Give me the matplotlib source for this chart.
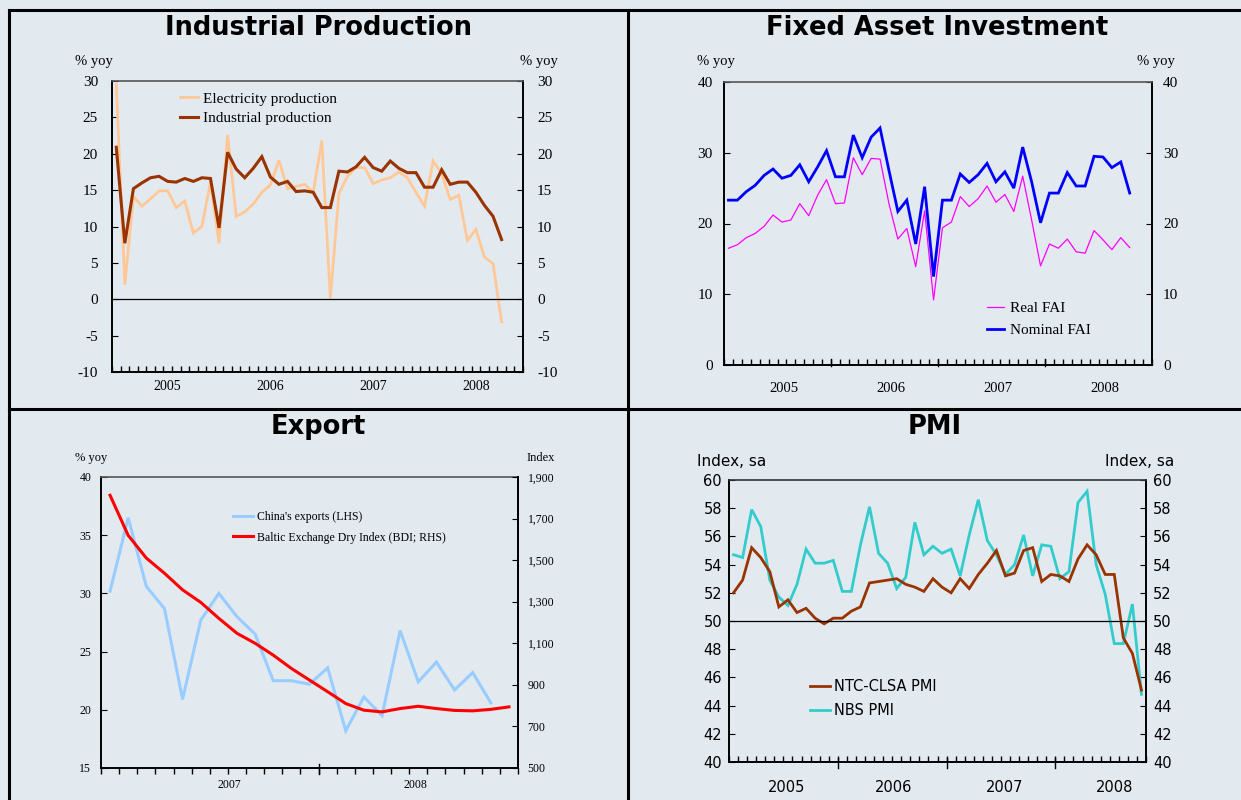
import numpy as np
import matplotlib
matplotlib.use("Agg")
import matplotlib.pyplot as plt
from matplotlib.lines import Line2D
from matplotlib.ticker import FuncFormatter

plt.rcParams["axes.unicode_minus"] = False

# ---------------- data ----------------
years_top = ["2005", "2006", "2007", "2008"]

ip_electricity = [29.5, 2.0, 14.1, 12.8, 13.8, 14.9, 14.9, 12.6, 13.5, 9.1, 10.0, 16.1,
                  7.7, 22.6, 11.4, 12.0, 13.1, 14.7, 15.7, 19.1, 15.2, 15.5, 15.8, 14.7,
                  21.8, 0.1, 14.5, 16.9, 18.1, 18.1, 15.9, 16.4, 16.7, 17.5, 16.7, 14.7,
                  12.8, 19.0, 17.3, 13.7, 14.3, 8.1, 9.6, 5.8, 4.9, -3.1]
ip_industrial = [20.9, 7.7, 15.2, 16.0, 16.7, 16.9, 16.2, 16.1, 16.6, 16.2, 16.7, 16.6,
                 9.8, 20.2, 17.9, 16.7, 18.0, 19.6, 16.8, 15.8, 16.2, 14.8, 14.9, 14.7,
                 12.6, 12.6, 17.6, 17.5, 18.2, 19.5, 18.1, 17.6, 19.0, 18.0, 17.4, 17.4,
                 15.4, 15.4, 17.8, 15.8, 16.1, 16.1, 14.7, 12.9, 11.4, 8.2]

fai_real = [16.5, 17.0, 18.0, 18.6, 19.6, 21.2, 20.2, 20.5, 22.8, 21.1, 24.0, 26.2,
            22.8, 22.9, 29.3, 26.9, 29.2, 29.1, 22.8, 17.8, 19.3, 13.9, 21.8, 9.2,
            19.4, 20.2, 23.8, 22.4, 23.5, 25.3, 23.0, 24.1, 21.7, 26.7, 20.5, 14.0,
            17.1, 16.5, 17.8, 16.0, 15.8, 19.0, 17.7, 16.3, 18.0, 16.6]
fai_nominal = [23.3, 23.3, 24.5, 25.4, 26.8, 27.7, 26.4, 26.8, 28.3, 25.9, 28.0, 30.3,
               26.6, 26.6, 32.5, 29.3, 32.2, 33.5, 27.5, 21.7, 23.3, 17.1, 25.2, 12.5,
               23.3, 23.3, 27.0, 25.8, 26.9, 28.5, 25.9, 27.3, 25.0, 30.8, 25.9, 20.1,
               24.3, 24.3, 27.2, 25.3, 25.3, 29.5, 29.4, 27.9, 28.7, 24.3]

years_exp = ["2007", "2008"]
exports_yoy = [30.2, 36.5, 30.6, 28.7, 20.9, 27.7, 30.0, 28.0, 26.5, 22.5, 22.5, 22.2,
               23.6, 18.2, 21.1, 19.5, 26.8, 22.4, 24.1, 21.7, 23.2, 20.6]
bdi_index = [1812, 1619, 1510, 1437, 1357, 1297, 1220, 1148, 1100, 1043, 979, 923,
             867, 810, 778, 770, 786, 797, 786, 777, 775, 782, 794]

pmi_ntc = [52.0, 52.9, 55.2, 54.5, 53.5, 51.0, 51.5, 50.6, 50.9, 50.2, 49.8, 50.2,
           50.2, 50.7, 51.0, 52.7, 52.8, 52.9, 53.0, 52.6, 52.4, 52.1, 53.0, 52.4,
           52.0, 53.0, 52.3, 53.3, 54.1, 55.0, 53.2, 53.4, 55.0, 55.2, 52.8, 53.3,
           53.2, 52.8, 54.4, 55.4, 54.7, 53.3, 53.3, 48.8, 47.7, 45.1]
pmi_nbs = [54.7, 54.5, 57.9, 56.7, 52.9, 51.7, 51.1, 52.6, 55.1, 54.1, 54.1, 54.3,
           52.1, 52.1, 55.4, 58.1, 54.8, 54.1, 52.3, 53.1, 57.0, 54.7, 55.3, 54.8,
           55.1, 53.2, 56.1, 58.6, 55.7, 54.7, 53.3, 54.0, 56.1, 53.2, 55.4, 55.3,
           53.0, 53.5, 58.4, 59.2, 54.0, 51.9, 48.4, 48.4, 51.2, 44.8]

# ---------------- style ----------------
BG = "#E2EAF0"
W, H = 1241, 800
SERIF = ["Liberation Serif", "DejaVu Serif"]
SANS = ["DejaVu Sans"]

fig = plt.figure(figsize=(W / 100, H / 100), dpi=100, facecolor=BG)


def fx(x):
    return x / W


def fy(y):
    return 1 - y / H


def make_ax(l, t, r, b):
    ax = fig.add_axes([fx(l), fy(b), fx(r - l), (b - t) / H])
    ax.set_facecolor(BG)
    return ax


def style_spines(ax, top_color="#555555"):
    for s in ("left", "right", "bottom"):
        ax.spines[s].set_color("black")
        ax.spines[s].set_linewidth(1.4)
    ax.spines["top"].set_color(top_color)
    ax.spines["top"].set_linewidth(1.2)


def xcat(ax, n_cats, label_pos, labels, fam, fsize, pad, direction="in",
         long_at=None, long_px=(4, 6)):
    ax.set_xlim(-0.5, n_cats - 0.5)
    bounds = np.arange(n_cats + 1) - 0.5
    ax.set_xticks(bounds)
    ax.set_xticklabels([])
    ax.tick_params(axis="x", which="major", direction=direction, length=4,
                   width=1, color="black", top=False)
    ax.set_xticks(label_pos, minor=True)
    ax.set_xticklabels(labels, minor=True, family=fam, fontsize=fsize)
    ax.tick_params(axis="x", which="minor", length=0, pad=pad)
    if long_at is not None:
        hpx = ax.get_position().height * H
        up, down = long_px
        for b in long_at:
            ax.add_line(Line2D([b, b], [-down / hpx, up / hpx],
                               transform=ax.get_xaxis_transform(), color="black",
                               lw=1, clip_on=False))


def set_yfamily(ax, fam):
    for t in ax.yaxis.get_major_ticks():
        t.label1.set_family(fam)
        t.label2.set_family(fam)


# ================= Industrial Production =================
ax1 = make_ax(112, 81, 523, 372)
x_ip = np.arange(len(ip_electricity))
ax1.plot(x_ip, ip_electricity, color="#FFC896", lw=2.0, label="Electricity production",
         solid_joinstyle="miter")
ax1.plot(x_ip, ip_industrial, color="#993300", lw=2.2, label="Industrial production",
         solid_joinstyle="miter")
ax1.axhline(0, color="black", lw=0.9)
ax1.set_ylim(-10, 30)
ax1.set_yticks(np.arange(-10, 31, 5))
ax1.tick_params(axis="y", direction="in", length=4, labelsize=11, pad=10,
                right=True, labelright=True)
set_yfamily(ax1, SERIF)
for t in ax1.yaxis.get_major_ticks():
    t.set_pad(10)
xcat(ax1, 48, [6, 18, 30, 42], years_top, SERIF, 10, 6)
style_spines(ax1)
ax1.legend(loc="upper left", bbox_to_anchor=(0.165, 0.962), frameon=False,
           prop={"family": SERIF, "size": 11}, handlelength=1.2,
           handletextpad=0.3, labelspacing=0.38, borderaxespad=0, borderpad=0)
fig.text(fx(75), fy(61), "% yoy", family=SERIF, fontsize=10.5, va="center", ha="left")
fig.text(fx(520), fy(61), "% yoy", family=SERIF, fontsize=10.5, va="center", ha="left")

# ================= Fixed Asset Investment =================
ax2 = make_ax(724, 82, 1152, 365)
x_fai = np.arange(len(fai_real))
ax2.plot(x_fai, fai_real, color="#FF00FF", lw=0.9, label="Real FAI")
ax2.plot(x_fai, fai_nominal, color="#0000FF", lw=2.0, label="Nominal FAI",
         solid_joinstyle="miter")
ax2.set_ylim(0, 40)
ax2.set_yticks(np.arange(0, 41, 10))
ax2.tick_params(axis="y", direction="in", length=4, labelsize=11, pad=8,
                right=True, labelright=True)
set_yfamily(ax2, SERIF)
for t in ax2.yaxis.get_major_ticks():
    t.set_pad(8)
xcat(ax2, 48, [6.2, 18.2, 30.2, 42.2], years_top, SERIF, 10.5, 12,
     long_at=[11.5, 23.5, 35.5], long_px=(6, 1))
style_spines(ax2, top_color="#555555")
ax2.legend(loc="upper left", bbox_to_anchor=(0.614, 0.225), frameon=False,
           prop={"family": SERIF, "size": 11}, handlelength=1.1,
           handletextpad=0.4, labelspacing=0.55, borderaxespad=0, borderpad=0)
fig.text(fx(697), fy(62), "% yoy", family=SERIF, fontsize=10.5, va="center", ha="left")
fig.text(fx(1137), fy(62), "% yoy", family=SERIF, fontsize=10.5, va="center", ha="left")

# ================= Export =================
ax3 = make_ax(101, 477, 518, 768)
x_exp = np.arange(len(exports_yoy))
x_bdi = np.arange(len(bdi_index))
ax3.set_ylim(15, 40)
ax3.set_yticks(np.arange(15, 41, 5))
ax3.tick_params(axis="y", direction="in", length=4, labelsize=8.5, pad=7)
set_yfamily(ax3, SERIF)
ax3b = ax3.twinx()
ax3b.set_ylim(500, 1900)
ax3b.set_yticks(np.arange(500, 1901, 200))
ax3b.yaxis.set_major_formatter(FuncFormatter(lambda v, p: f"{int(v):,}"))
ax3b.tick_params(axis="y", direction="in", length=4, labelsize=8.5, pad=7)
set_yfamily(ax3b, SERIF)
l_exp, = ax3.plot(x_exp, exports_yoy, color="#99CCFF", lw=2.2,
                  label="China's exports (LHS)", solid_joinstyle="miter")
l_bdi, = ax3b.plot(x_bdi, bdi_index, color="#FF0000", lw=2.2,
                   label="Baltic Exchange Dry Index (BDI; RHS)")
xcat(ax3, 23, [6.57, 16.85], years_exp, SERIF, 8.5, 8, direction="out",
     long_at=[11.5], long_px=(4, 6))
style_spines(ax3)
for s in ax3b.spines.values():
    s.set_visible(False)
ax3b.spines["right"].set_visible(True)
ax3b.spines["right"].set_color("black")
ax3b.spines["right"].set_linewidth(1.4)
ax3b.legend([l_exp, l_bdi], [l_exp.get_label(), l_bdi.get_label()],
            loc="upper left", bbox_to_anchor=(0.317, 0.882), frameon=False,
            prop={"family": SERIF, "size": 8.5}, handlelength=1.7,
            handletextpad=0.35, labelspacing=0.7, borderaxespad=0, borderpad=0)
fig.text(fx(75), fy(458), "% yoy", family=SERIF, fontsize=9, va="center", ha="left")
fig.text(fx(527), fy(458), "Index", family=SERIF, fontsize=9, va="center", ha="left")

# ================= PMI =================
ax4 = make_ax(729, 480, 1146, 762)
x_pmi = np.arange(len(pmi_ntc))
ax4.plot(x_pmi, pmi_nbs, color="#33CCCC", lw=2.0, label="NBS PMI",
         solid_joinstyle="miter")
ax4.plot(x_pmi, pmi_ntc, color="#993300", lw=2.0, label="NTC-CLSA PMI",
         solid_joinstyle="miter")
ax4.axhline(50, color="black", lw=0.9)
ax4.set_ylim(40, 60)
ax4.set_yticks(np.arange(40, 61, 2))
ax4.tick_params(axis="y", direction="in", length=4, labelsize=10.5, pad=5,
                right=True, labelright=True)
set_yfamily(ax4, SANS)
for t in ax4.yaxis.get_major_ticks():
    t.set_pad(5)
xcat(ax4, 46, [5.85, 17.6, 29.9, 42.0], years_top, SANS, 10.5, 13,
     long_at=[11.5, 23.5, 35.5], long_px=(4, 6))
style_spines(ax4, top_color="#333333")
h, lbl = ax4.get_legend_handles_labels()
ax4.legend([h[1], h[0]], [lbl[1], lbl[0]], loc="upper left",
           bbox_to_anchor=(0.194, 0.293), frameon=False,
           prop={"family": SANS, "size": 10.5}, handlelength=1.37,
           handletextpad=0.3, labelspacing=0.6, borderaxespad=0, borderpad=0)
fig.text(fx(697), fy(461), "Index, sa", family=SANS, fontsize=11, va="center", ha="left")
fig.text(fx(1105), fy(461), "Index, sa", family=SANS, fontsize=11, va="center", ha="left")

# ================= titles =================
TKW = dict(family=SANS, fontsize=18.5, fontweight="bold", ha="center", va="center")
fig.text(fx(318), fy(28), "Industrial Production", **TKW)
fig.text(fx(937), fy(28), "Fixed Asset Investment", **TKW)
fig.text(fx(318), fy(427), "Export", **TKW)
fig.text(fx(935), fy(427), "PMI", **TKW)

# ================= panel borders =================
for (x0, y0, x1, y1) in [(9, 10, 9, 800), (9, 10, 1241, 10), (628, 10, 628, 800),
                         (9, 409, 1241, 409)]:
    fig.add_artist(Line2D([fx(x0), fx(x1)], [fy(y0), fy(y1)], color="black",
                          lw=2.2, transform=fig.transFigure))

fig.savefig("out.png", dpi=100, facecolor=BG)
